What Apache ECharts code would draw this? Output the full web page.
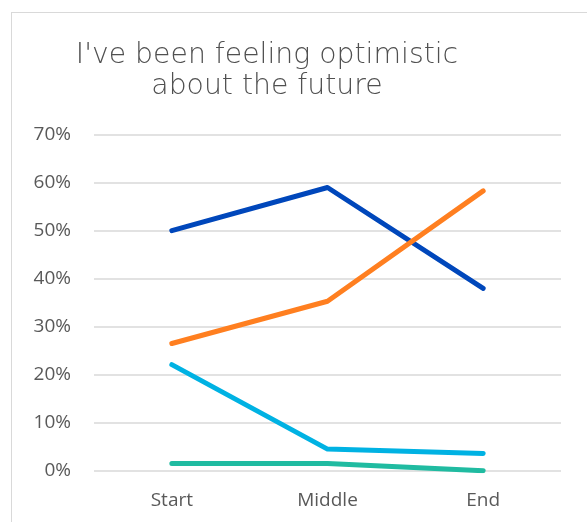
<!DOCTYPE html>
<html>
<head>
<meta charset="utf-8">
<script src="https://cdn.jsdelivr.net/npm/echarts@6/dist/echarts.min.js"></script>
<style>
  html, body { margin: 0; padding: 0; background: #fff; }
  #frame { position: absolute; left: 11px; top: 12px; width: 600px; height: 540px; border: 1px solid #d9d9d9; box-sizing: border-box; }
  #chart { position: absolute; left: 0; top: 0; width: 587px; height: 522px; }
</style>
</head>
<body>
<div id="frame"></div>
<div id="chart"></div>
<script>
// Survey stages along the x axis
const stages = ['Start', 'Middle', 'End'];
// Share of respondents per group (percent)
const darkBlue = [50, 59, 38];
const orange = [26.5, 35.3, 58.3];
const lightBlue = [22.1, 4.5, 3.6];
const teal = [1.5, 1.5, 0];
// Y axis range and step (percent)
const yMin = 0, yMax = 70, yStep = 10;

const chart = echarts.init(document.getElementById('chart'), null, { renderer: 'canvas' });

function lineSeries(name, data, color) {
  return {
    name: name,
    type: 'line',
    data: data,
    symbol: 'none',
    lineStyle: { color: color, width: 5, cap: 'round', join: 'round' },
    itemStyle: { color: color },
    animation: false
  };
}

chart.setOption({
  backgroundColor: 'transparent',
  title: {
    text: "I've been feeling optimistic\nabout the future",
    left: 262,
    textAlign: 'center',
    top: 35,
    textStyle: {
      fontFamily: '"DejaVu Sans", sans-serif',
      fontWeight: 200,
      fontSize: 28.3,
      lineHeight: 31,
      color: '#505050'
    }
  },
  grid: { left: 94, right: 26, top: 134.7, bottom: 51.3, containLabel: false },
  xAxis: {
    type: 'category',
    data: stages,
    boundaryGap: true,
    axisLine: { show: false },
    axisTick: { show: false },
    axisLabel: {
      margin: 20,
      fontFamily: '"Open Sans", "Noto Sans", sans-serif',
      fontSize: 19,
      color: '#595959'
    }
  },
  yAxis: {
    type: 'value',
    min: yMin,
    max: yMax,
    interval: yStep,
    axisLine: { show: false },
    axisTick: { show: false },
    axisLabel: {
      margin: 23,
      formatter: '{value}%',
      fontFamily: '"Open Sans", "Noto Sans", sans-serif',
      fontSize: 19,
      color: '#595959'
    },
    splitLine: { lineStyle: { color: '#d9d9d9', width: 1.5 } }
  },
  series: [
    lineSeries('Group A', darkBlue, '#0047BB'),
    lineSeries('Group B', orange, '#FF7F20'),
    lineSeries('Group C', lightBlue, '#00B2E3'),
    lineSeries('Group D', teal, '#20BBA1')
  ]
});
</script>
</body>
</html>
